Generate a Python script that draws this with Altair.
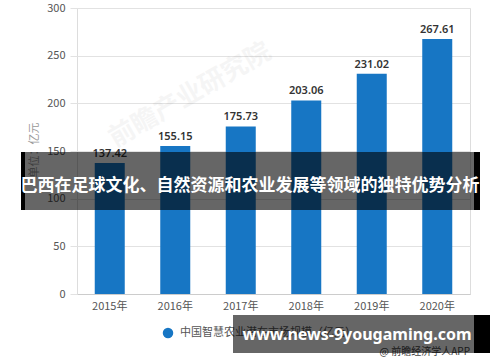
import altair as alt
import pandas as pd

years = ["2015年", "2016年", "2017年", "2018年", "2019年", "2020年"]
values = [137.42, 155.15, 175.73, 203.06, 231.02, 267.61]
y_ticks = [0, 50, 100, 150, 200, 250, 300]
legend_label = "中国智慧农业潜在市场规模（亿元）"
title_text = "巴西在足球文化、自然资源和农业发展等领域的独特优势分析"
site_text = "www.news-9yougaming.com"
source_text = "@ 前瞻经济学人APP"
unit_text = "单位：亿元"
watermark = "前瞻产业研究院"

df = pd.DataFrame({"year": years, "value": values})
df["label"] = [f"{v:.2f}" for v in values]

W, H = 393, 286
L, T = 77, 8
one = alt.Data(values=[{"a": 1}])

x = alt.X("year:N", sort=years, title=None,
          scale=alt.Scale(paddingInner=0.54, paddingOuter=0.27),
          axis=alt.Axis(labelAngle=0, labelFontSize=11, labelColor="#555",
                        labelFont="Noto Sans CJK SC", ticks=False,
                        domainColor="#ccc", labelPadding=6))
y = alt.Y("value:Q", title=None,
          scale=alt.Scale(domain=[0, 300], nice=False),
          axis=alt.Axis(values=y_ticks, labelFontSize=11, labelColor="#555",
                        labelFont="Noto Sans CJK SC", gridColor="#e2e2e2",
                        tickColor="#e2e2e2", tickSize=7, domain=False,
                        labelPadding=5))

bars = alt.Chart(df).mark_bar(size=30, color="#1776c4").encode(x=x, y=y)
labels = alt.Chart(df).mark_text(dy=-9, fontSize=11, fontWeight=600,
                                  color="#333", font="Noto Sans").encode(
    x=alt.X("year:N", sort=years), y="value:Q", text="label:N")

wm = alt.Chart(one).mark_text(fontSize=26, fontWeight="bold", color="#000",
                              opacity=0.035, angle=330,
                              font="Noto Sans CJK SC").encode(
    x=alt.value(190 - L), y=alt.value(95 - T), text=alt.value(watermark))

unit = alt.Chart(one).mark_text(fontSize=11, color="#999", angle=270,
                                font="Noto Sans CJK SC").encode(
    x=alt.value(35 - L), y=alt.value(150 - T), text=alt.value(unit_text))

legend_dot = alt.Chart(one).mark_point(filled=True, size=110, color="#1776c4",
                                       opacity=1).encode(
    x=alt.value(168 - L), y=alt.value(333 - T))
legend_txt = alt.Chart(one).mark_text(fontSize=11, color="#555", align="left",
                                      font="Noto Sans CJK SC").encode(
    x=alt.value(180 - L), y=alt.value(333 - T), text=alt.value(legend_label))

band = alt.Chart(one).mark_rect(color="#000", opacity=0.6).encode(
    x=alt.value(25 - L), x2=alt.value(474 - L),
    y=alt.value(152 - T), y2=alt.value(210 - T))
band_l = alt.Chart(one).mark_rect(color="#000").encode(
    x=alt.value(21 - L), x2=alt.value(25 - L),
    y=alt.value(152 - T), y2=alt.value(210 - T))
band_r = alt.Chart(one).mark_rect(color="#000").encode(
    x=alt.value(474 - L), x2=alt.value(480 - L),
    y=alt.value(152 - T), y2=alt.value(210 - T))
title = alt.Chart(one).mark_text(fontSize=17, fontWeight="bold", color="#fff",
                                 font="Noto Sans CJK SC").encode(
    x=alt.value(250 - L), y=alt.value(186 - T), text=alt.value(title_text))

src = alt.Chart(one).mark_text(fontSize=10, color="#444", align="right",
                               font="Noto Sans CJK SC").encode(
    x=alt.value(470 - L), y=alt.value(352 - T), text=alt.value(source_text))

box = alt.Chart(one).mark_rect(color="#000", opacity=0.6).encode(
    x=alt.value(233 - L), x2=alt.value(474 - L),
    y=alt.value(315 - T), y2=alt.value(353 - T))
box_r = alt.Chart(one).mark_rect(color="#000").encode(
    x=alt.value(474 - L), x2=alt.value(490 - L),
    y=alt.value(315 - T), y2=alt.value(353 - T))
site = alt.Chart(one).mark_text(fontSize=16, fontWeight="bold", color="#fff",
                                font="Noto Sans").encode(
    x=alt.value(357 - L), y=alt.value(335 - T), text=alt.value(site_text))

chart = alt.layer(wm, bars, labels, unit, legend_dot, legend_txt, src,
                  band, band_l, band_r, title, box, box_r, site).properties(
    width=W, height=H,
    autosize=alt.AutoSizeParams(type="none"),
    padding={"left": L, "top": T, "right": 500 - L - W, "bottom": 362 - T - H},
).configure_view(stroke=None).configure(background="#fff")

chart.save("out.html", embed_options={"renderer": "svg", "actions": False})
